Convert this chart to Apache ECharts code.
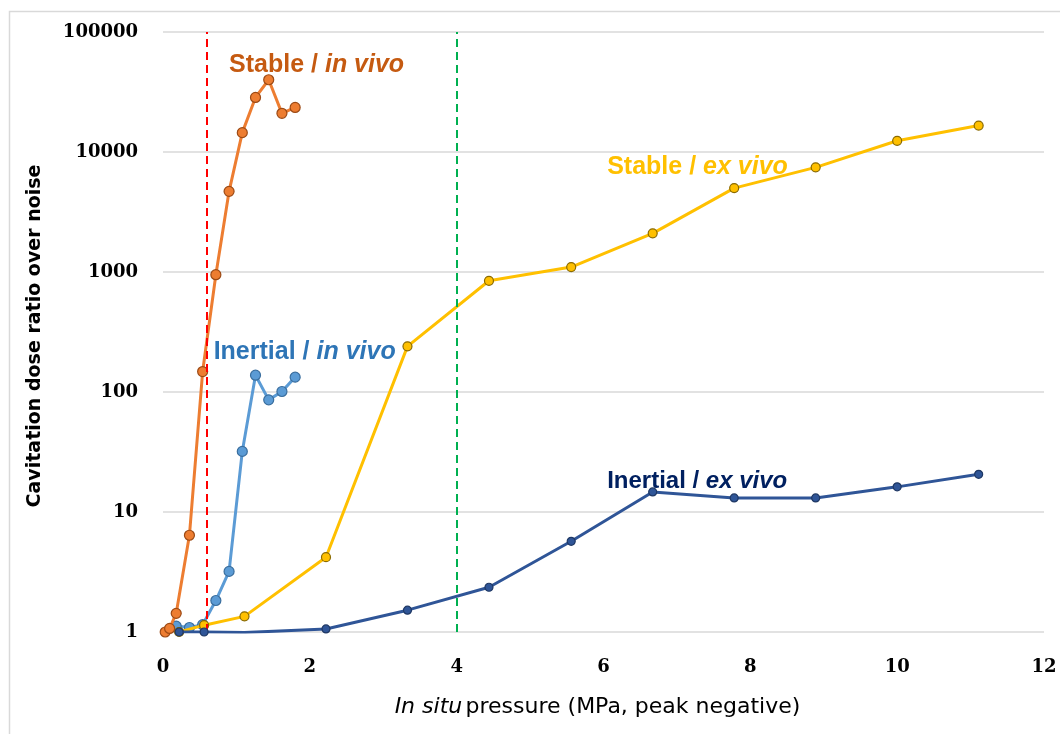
<!DOCTYPE html>
<html>
<head>
<meta charset="utf-8">
<script src="https://cdn.jsdelivr.net/npm/echarts@6/dist/echarts.min.js"></script>
<style>
html,body{margin:0;padding:0;background:#fff;}
#chart{width:1060px;height:734px;}
</style>
</head>
<body>
<div id="chart"></div>
<script>
// ---- Data ----
const inVivoX = [0.03, 0.09, 0.18, 0.36, 0.54, 0.72, 0.9, 1.08, 1.26, 1.44, 1.62, 1.8];
const stableInVivo = [1.0, 1.07, 1.43, 6.4, 148, 950, 4700, 14500, 28500, 40000, 21000, 23500];
const inertialInVivoX = [0.18, 0.36, 0.54, 0.72, 0.9, 1.08, 1.26, 1.44, 1.62, 1.8];
const inertialInVivo = [1.12, 1.09, 1.15, 1.83, 3.2, 32, 138, 86, 101, 133];
const exVivoX = [0.22, 0.56, 1.11, 2.22, 3.33, 4.44, 5.56, 6.67, 7.78, 8.89, 10.0, 11.11];
const stableExVivo = [1.0, 1.14, 1.35, 4.2, 240, 845, 1100, 2100, 5000, 7450, 12400, 16600];
const inertialExVivo = [1.0, 1.0, 0.99, 1.06, 1.52, 2.36, 5.7, 14.7, 13.1, 13.1, 16.2, 20.6];
const yTicks = [1, 10, 100, 1000, 10000, 100000];
const xTicks = [0, 2, 4, 6, 8, 10, 12];
const thresholdInVivo = 0.6;
const thresholdExVivo = 4.0;
const labels = [
  {main: 'Stable / ', it: 'in vivo', x: 0.9, y: 53000, key: 'si', size: 25},
  {main: 'Inertial / ', it: 'in vivo', x: 0.69, y: 215, key: 'ii', size: 25},
  {main: 'Stable / ', it: 'ex vivo', x: 6.05, y: 7500, key: 'se', size: 25},
  {main: 'Inertial / ', it: 'ex vivo', x: 6.05, y: 18, key: 'ie', size: 24}
];

const labelColors = {si: '#C55A11', ii: '#2E75B6', se: '#FFC000', ie: '#002060'};

function pairs(xs, ys){ return xs.map((x,i)=>[x, ys[i]]); }

const chart = echarts.init(document.getElementById('chart'));
const tickFont = {fontFamily: 'DejaVu Serif', fontWeight: 'bold', fontSize: 18, color: '#000'};

function lineSeries(name, data, color, border, size, z){
  return {
    name, type: 'line', data, z,
    symbol: 'circle', symbolSize: size,
    lineStyle: {color, width: 3},
    itemStyle: {color, borderColor: border, borderWidth: 1.2},
    emphasis: {disabled: true},
    animation: false
  };
}

const option = {
  animation: false,
  grid: {left: 163, right: 16, top: 32, bottom: 102, containLabel: false},
  graphic: [{
    type: 'rect', left: 7, top: 9, shape: {width: 1100, height: 800},
    style: {fill: 'none', stroke: '#D9D9D9', lineWidth: 1.5}, silent: true, z: -10
  }],
  xAxis: {
    type: 'value', min: 0, max: 12, interval: 2,
    axisLine: {show: false}, axisTick: {show: false}, splitLine: {show: false},
    axisLabel: Object.assign({margin: 26}, tickFont),
    name: '{i|In situ} {n|pressure (MPa, peak negative)}',
    nameLocation: 'middle', nameGap: 64,
    nameTextStyle: {
      padding: [0, 12, 0, 0],
      rich: {
        i: {fontFamily: 'DejaVu Sans', fontStyle: 'italic', fontSize: 22, color: '#000'},
        n: {fontFamily: 'DejaVu Sans', fontSize: 22, color: '#000'}
      }
    }
  },
  yAxis: {
    type: 'log', logBase: 10, min: 1, max: 100000,
    axisLine: {show: false}, axisTick: {show: false},
    splitLine: {show: true, lineStyle: {color: '#D9D9D9', width: 1.5}},
    axisLabel: Object.assign({margin: 25, formatter: v => String(Math.round(v))}, tickFont),
    name: 'Cavitation dose ratio over noise',
    nameLocation: 'middle', nameGap: 118,
    nameTextStyle: {fontFamily: 'DejaVu Sans', fontSize: 19, color: '#000', fontWeight: 'bold', padding: [0, 0, 0, -8]}
  },
  series: [
    lineSeries('Inertial / in vivo', pairs(inertialInVivoX, inertialInVivo), '#5B9BD5', '#3A6E9E', 10, 2),
    lineSeries('Stable / ex vivo', pairs(exVivoX, stableExVivo), '#FFC000', '#8A6A00', 9, 3),
    lineSeries('Stable / in vivo', pairs(inVivoX, stableInVivo), '#ED7D31', '#9C4A15', 10, 4),
    lineSeries('Inertial / ex vivo', pairs(exVivoX, inertialExVivo), '#2F5597', '#1F3864', 8, 5),
    {
      name: 'thresholds', type: 'line', data: [], z: 6,
      markLine: {
        silent: true, symbol: 'none', animation: false,
        label: {show: false},
        data: [
          {xAxis: thresholdInVivo, lineStyle: {color: '#FF0000', type: [8, 5], width: 2}},
          {xAxis: thresholdExVivo, lineStyle: {color: '#00B050', type: [8, 5], width: 2}}
        ]
      }
    },
    {
      name: 'annotations', type: 'scatter', symbolSize: 0, z: 10,
      itemStyle: {opacity: 1},
      data: labels.map(l => ({value: [l.x, l.y], info: l})),
      label: {
        show: true, position: 'right', distance: 0, opacity: 1, textBorderWidth: 0,
        formatter: p => '{' + p.data.info.key + 'n|' + p.data.info.main + '}{' + p.data.info.key + 'i|' + p.data.info.it + '}',
        rich: (function(){
          const r = {};
          labels.forEach(l => {
            const k = l.key;
            r[k + 'n'] = {fontFamily: 'Liberation Sans', fontWeight: 'bold', fontSize: l.size, color: labelColors[k]};
            r[k + 'i'] = {fontFamily: 'Liberation Sans', fontWeight: 'bold', fontStyle: 'italic', fontSize: l.size, color: labelColors[k]};
          });
          return r;
        })()
      },
      emphasis: {disabled: true}
    }
  ]
};
chart.setOption(option);
</script>
</body>
</html>
